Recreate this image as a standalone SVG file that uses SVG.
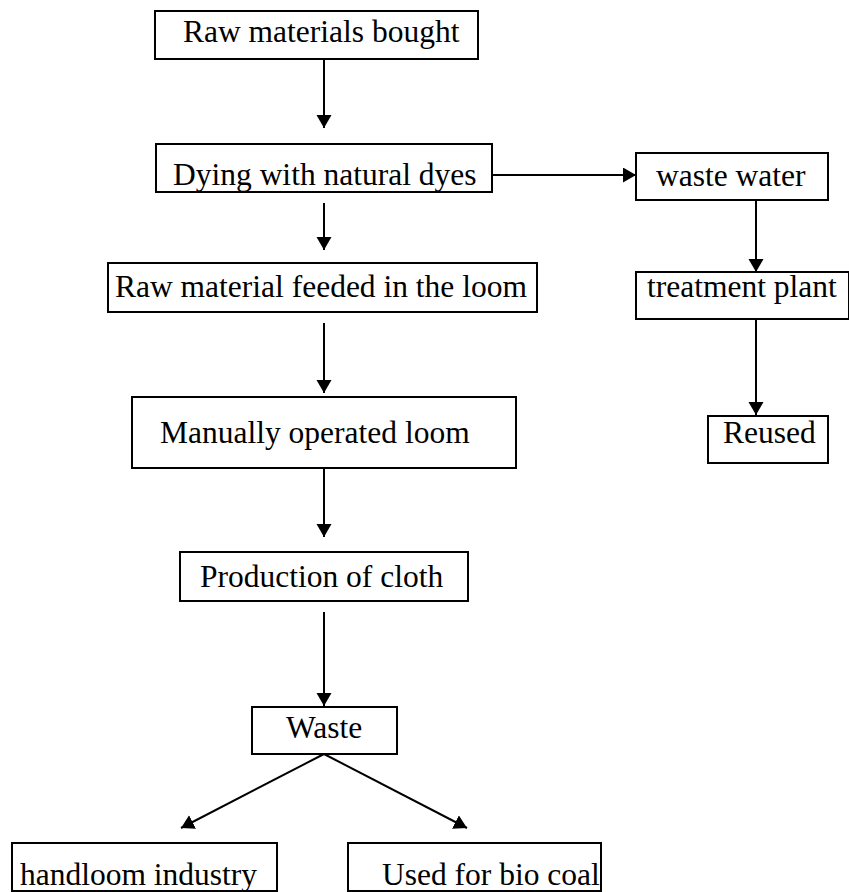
<svg xmlns="http://www.w3.org/2000/svg" width="849" height="892" viewBox="0 0 849 892">
<style>
  .box { fill: #fff; stroke: #000; stroke-width: 2; }
  .lbl { font-family: "Liberation Serif", "Times New Roman", serif; font-size: 31.5px; fill: #000; }
  .con { stroke: #000; stroke-width: 2; fill: none; marker-end: url(#ah); }
</style>
<defs>
  <marker id="ah" markerUnits="userSpaceOnUse" markerWidth="14" markerHeight="16" refX="13" refY="7.5" orient="auto">
    <path d="M0,0 L13,7.5 L0,15 z" fill="#000"/>
  </marker>
</defs>
<rect width="849" height="892" fill="#fff"/>
<g id="connectors">
  <line class="con" x1="324" y1="59" x2="324" y2="128"/>
  <line class="con" x1="324" y1="203" x2="324" y2="250"/>
  <line class="con" x1="324" y1="323" x2="324" y2="393"/>
  <line class="con" x1="324" y1="463" x2="324" y2="537"/>
  <line class="con" x1="324" y1="612" x2="324" y2="706"/>
  <line class="con" x1="324" y1="754" x2="181" y2="828"/>
  <line class="con" x1="324" y1="754" x2="467" y2="828"/>
  <line class="con" x1="492" y1="175" x2="636" y2="175"/>
  <line class="con" x1="756" y1="200" x2="756" y2="272"/>
  <line class="con" x1="756" y1="319" x2="756" y2="415"/>
</g>
<g id="n-raw">
  <rect class="box" x="155" y="11" width="323" height="48"/>
  <text class="lbl" x="183" y="42">Raw materials bought</text>
</g>
<g id="n-dying">
  <rect class="box" x="156" y="144" width="336" height="48"/>
  <text class="lbl" x="173" y="185">Dying with natural dyes</text>
</g>
<g id="n-feed">
  <rect class="box" x="108" y="263" width="429" height="49"/>
  <text class="lbl" x="115" y="297">Raw material feeded in the loom</text>
</g>
<g id="n-loom">
  <rect class="box" x="132" y="397" width="384" height="71"/>
  <text class="lbl" x="160" y="443">Manually operated loom</text>
</g>
<g id="n-cloth">
  <rect class="box" x="180" y="552" width="288" height="49"/>
  <text class="lbl" x="200" y="587">Production of cloth</text>
</g>
<g id="n-waste">
  <rect class="box" x="252" y="707" width="145" height="47"/>
  <text class="lbl" x="286" y="738">Waste</text>
</g>
<g id="n-handloom">
  <rect class="box" x="12" y="843" width="265" height="48"/>
  <text class="lbl" x="20" y="885">handloom industry</text>
</g>
<g id="n-biocoal">
  <rect class="box" x="348" y="843" width="253" height="48"/>
  <text class="lbl" x="382" y="885">Used for bio coal</text>
</g>
<g id="n-wastewater">
  <rect class="box" x="636" y="153" width="192" height="47"/>
  <text class="lbl" x="656" y="186">waste water</text>
</g>
<g id="n-treatment">
  <rect class="box" x="636" y="272" width="213" height="47"/>
  <text class="lbl" x="647" y="297">treatment plant</text>
</g>
<g id="n-reused">
  <rect class="box" x="708" y="416" width="120" height="47"/>
  <text class="lbl" x="723" y="443">Reused</text>
</g>
</svg>
